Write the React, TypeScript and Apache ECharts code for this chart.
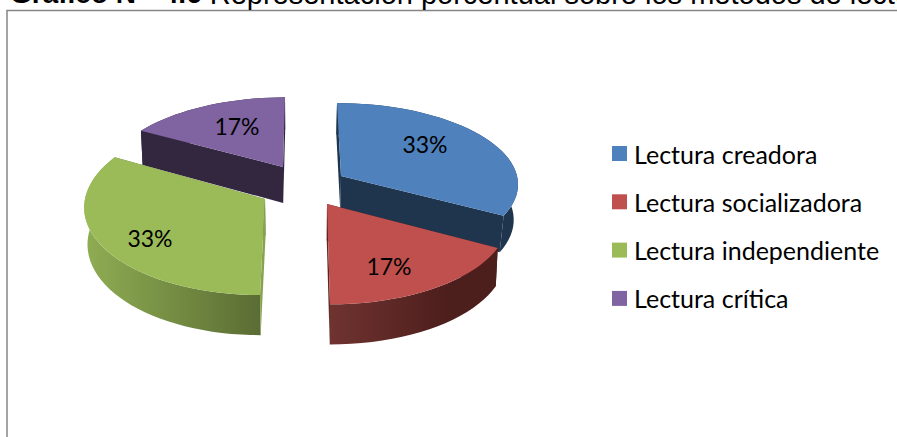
import React, { useEffect, useRef } from "react";
import * as echarts from "echarts";

const categories = ["Lectura creadora", "Lectura socializadora", "Lectura independiente", "Lectura crítica"];
const values = [33, 17, 33, 17];
const topColors = ["#4F81BD", "#C0504D", "#9BBB59", "#8064A2"];
const titleBold = "Gráfico N°  4.6";
const titleRest = " Representación porcentual sobre los métodos de lectura";

// layout of each slice, in series order
const apexes = [[341, 176], [327, 204], [265, 199], [283, 167]];
const radiiX = [176, 178, 180, 176];
const radiiY = [79, 84, 89.5, 81];
const perspectives = [0.084, 0.163, 0.068, 0.163];
const skews = [4, 3, -5, -2];
const depths = [35, 36.5, 36.5, 36];
const lowerShrink = [0.98, 0.99, 0.985, 0.99];
const labelPoints = [[425, 144], [389, 266], [150, 238], [237, 126]];
const paintOrder = [3, 5, 4, 2];
const VANISH_X = 304;

const wallStops = [
  ["#1F344D", "#1F344D"],
  ["#6F3330", "#4C1E1C"],
  ["#8FAD53", "#5A6C33"],
  ["#33273F", "#33273F"],
];
const wallSpan = [[340, 520], [330, 450], [85, 262], [140, 285]];
const radialColors = [["#1F344D", "#1F344D"], ["#4C1E1C", "#5A2522"], ["#87A34D", "#5F7236"], ["#33273F", "#33273F"]];

const total = values.reduce((a, b) => a + b, 0);

function sliceAngles(i: number): [number, number] {
  let sum = 0;
  for (let k = 0; k < i; k++) sum += values[k];
  return [(sum / total) * Math.PI * 2, ((sum + values[i]) / total) * Math.PI * 2];
}

function project(i: number, u: number, v: number, low: boolean): number[] {
  const w = 1 - perspectives[i] * v;
  let x = apexes[i][0] + (radiiX[i] * u) / w + skews[i] * v;
  let y = apexes[i][1] + (radiiY[i] * v) / w;
  if (low) {
    y += depths[i] * (1 + 0.1 * v);
    x = VANISH_X + (x - VANISH_X) * lowerShrink[i];
  }
  return [x, y];
}

function arcPoints(i: number, a0: number, a1: number, low: boolean): number[][] {
  const steps = Math.max(2, Math.ceil(((a1 - a0) / Math.PI) * 60));
  const pts: number[][] = [];
  for (let s = 0; s <= steps; s++) {
    const a = a0 + ((a1 - a0) * s) / steps;
    pts.push(project(i, Math.sin(a), -Math.cos(a), low));
  }
  return pts;
}

function makeRender(i: number) {
  return (_params: any, api: any) => {
    const [a0, a1] = sliceAngles(i);
    const v = api.value(0);
    const upperArc = arcPoints(i, a0, a1, false);
    const lowerArc = arcPoints(i, a0, a1, true);
    const apex = project(i, 0, 0, false);
    const apexLow = project(i, 0, 0, true);
    const grad = new echarts.graphic.LinearGradient(
      wallSpan[i][0], 0, wallSpan[i][1], 0,
      [{ offset: 0, color: wallStops[i][0] }, { offset: 1, color: wallStops[i][1] }],
      true
    );
    const mid = (a0 + a1) / 2;
    const walls = [
      {
        depth: (-Math.cos(a0)) / 2,
        el: {
          type: "polygon",
          shape: { points: [apex, upperArc[0], lowerArc[0], apexLow] },
          style: { fill: radialColors[i][0] },
        },
      },
      {
        depth: (-Math.cos(a1)) / 2,
        el: {
          type: "polygon",
          shape: { points: [apex, upperArc[upperArc.length - 1], lowerArc[lowerArc.length - 1], apexLow] },
          style: { fill: radialColors[i][1] },
        },
      },
      {
        depth: -Math.cos(mid) * 0.8,
        el: {
          type: "polygon",
          shape: { points: [...upperArc, ...lowerArc.slice().reverse()] },
          style: { fill: grad },
        },
      },
    ].sort((a, b) => a.depth - b.depth);
    return {
      type: "group",
      children: [
        ...walls.map((w) => w.el),
        {
          type: "polygon",
          shape: { points: [apex, ...upperArc] },
          style: { fill: topColors[i] },
        },
        {
          type: "text",
          x: labelPoints[i][0],
          y: labelPoints[i][1],
          style: {
            text: `${v}%`,
            fill: "#000000",
            font: "23px Lato",
            align: "center",
            verticalAlign: "middle",
          },
        },
      ],
    };
  };
}

export default function App() {
  const ref = useRef<HTMLDivElement>(null);
  useEffect(() => {
    document.body.style.margin = "0";
    const chart = echarts.init(ref.current!, undefined, { renderer: "svg" });
    chart.setOption({
      animation: false,
      backgroundColor: "#ffffff",
      legend: {
        orient: "vertical",
        left: 607,
        top: 136,
        itemWidth: 15,
        itemHeight: 15,
        itemGap: 23.3,
        icon: "rect",
        selectedMode: false,
        data: categories,
        textStyle: { fontFamily: "Lato", fontSize: 25, lineHeight: 24, color: "#000000", padding: [0, 0, 0, 2] },
      },
      graphic: [
        {
          type: "rect",
          shape: { x: 7, y: 10.5, width: 1000, height: 600 },
          style: { fill: "transparent", stroke: "#868686", lineWidth: 1.5 },
          silent: true,
        },
        {
          type: "text",
          x: 10,
          y: 8,
          style: {
            text: `{b|${titleBold}}{r|${titleRest}}`,
            verticalAlign: "bottom",
            rich: {
              b: { font: 'bold 28px "Liberation Sans"', fill: "#000000" },
              r: { font: '29px "Liberation Sans"', fill: "#000000" },
            },
          },
        },
      ],
      series: categories.map((name, i) => ({
        type: "custom",
        name,
        coordinateSystem: "none",
        z: paintOrder[i],
        itemStyle: { color: topColors[i] },
        renderItem: makeRender(i),
        data: [[values[i]]],
        encode: { value: 0 },
      })),
    });
    return () => chart.dispose();
  }, []);
  return <div ref={ref} style={{ position: "fixed", left: 0, top: 0, width: 897, height: 437 }} />;
}
